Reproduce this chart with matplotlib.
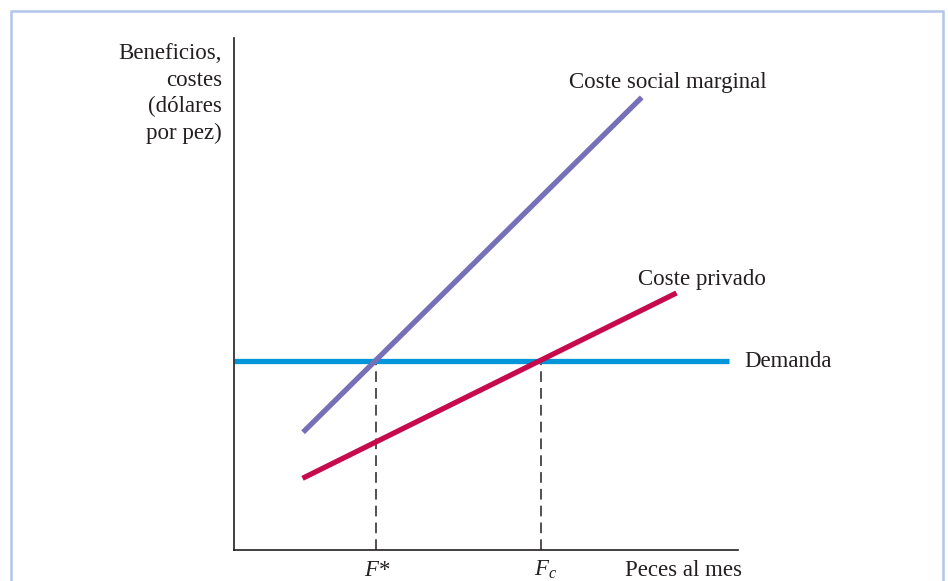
import matplotlib
matplotlib.use("Agg")
import matplotlib.pyplot as plt
from matplotlib.patches import Rectangle

plt.rcParams['font.family'] = ['Liberation Serif', 'DejaVu Serif']
plt.rcParams['mathtext.fontset'] = 'custom'
plt.rcParams['mathtext.rm'] = 'Liberation Serif'
plt.rcParams['mathtext.it'] = 'Liberation Serif:italic'

# curve end points (arbitrary units)
msc_x = [1.37, 8.09]
msc_y = [2.30, 8.84]
private_x = [1.36, 8.78]
private_y = [1.40, 5.02]
demand_x = [0.0, 9.82]
demand_y = [3.70, 3.70]
f_star = 2.81
f_c = 6.10

purple = '#7670b8'
crimson = '#c70a4b'
blue = '#0096d9'
ink = '#231f20'

fig = plt.figure(figsize=(9.48, 5.81), dpi=100)
ax = fig.add_axes([234 / 948, 31 / 581, 504 / 948, 512 / 581])
ax.set_xlim(0, 10)
ax.set_ylim(0, 10)

ax.plot(demand_x, demand_y, color=blue, lw=3.8, solid_capstyle='butt')
ax.plot(msc_x, msc_y, color=purple, lw=3.8, solid_capstyle='butt')
ax.plot(private_x, private_y, color=crimson, lw=3.8, solid_capstyle='butt')

for fx in [f_star, f_c]:
    ax.plot([fx, fx], [0, demand_y[0]], color=ink, lw=1.1, ls=(0, (7, 4)), zorder=1)

for side in ['top', 'right']:
    ax.spines[side].set_visible(False)
for side in ['left', 'bottom']:
    ax.spines[side].set_color(ink)
    ax.spines[side].set_linewidth(1.2)
ax.set_xticks([])
ax.set_yticks([])

fs = 16.5
ax.text(6.65, 9.14, 'Coste social marginal', fontsize=fs, color=ink, va='center', ha='left')
ax.text(8.02, 5.29, 'Coste privado', fontsize=fs, color=ink, va='center', ha='left')
ax.text(10.12, 3.69, 'Demanda', fontsize=fs, color=ink, va='center', ha='left')
ax.text(-0.24, 9.90, 'Beneficios,\ncostes\n(dólares\npor pez)', fontsize=fs, color=ink,
        va='top', ha='right', multialignment='right', linespacing=1.35, clip_on=False)

ax.text(f_star + 0.04, -0.40, r'$F$*', fontsize=fs, color=ink, va='center', ha='center')
ax.text(f_c + 0.08, -0.38, r'$F_c$', fontsize=fs, color=ink, va='center', ha='center')
ax.text(7.76, -0.40, 'Peces al mes', fontsize=fs, color=ink, va='center', ha='left')

fig.patches.append(Rectangle((11 / 948, -0.02), 932 / 948, 1.02 - 11 / 581, transform=fig.transFigure,
                             fill=False, edgecolor='#b3c5ea', lw=1.8))

fig.savefig('out.png', dpi=100)
